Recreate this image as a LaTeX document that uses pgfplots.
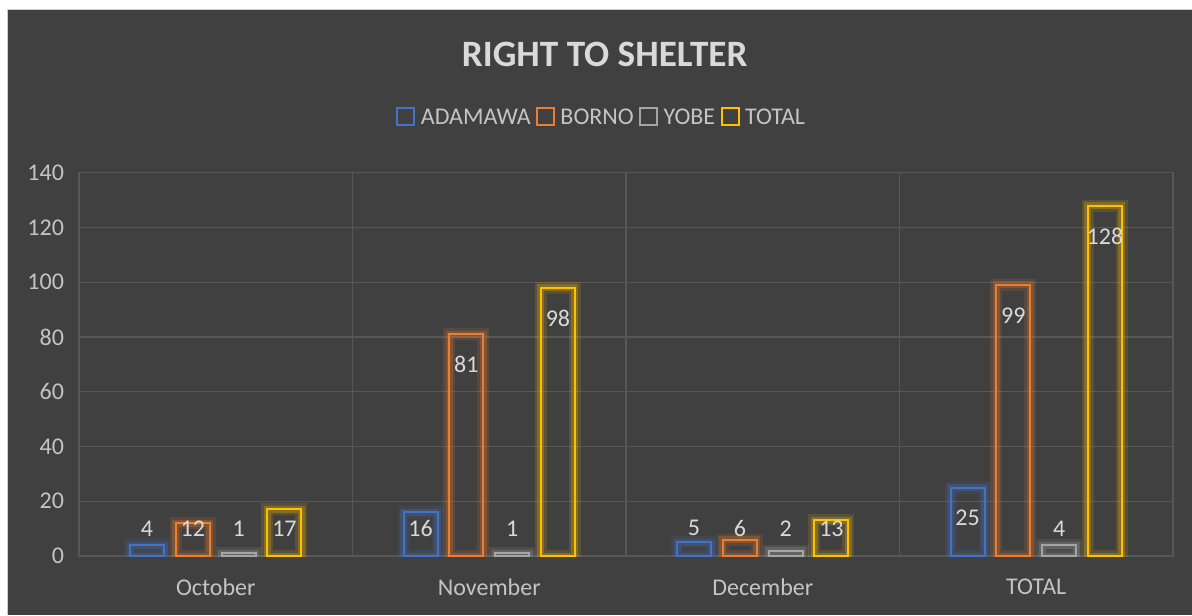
\documentclass[border=0pt]{standalone}
\usepackage{fontspec}
\setmainfont{Carlito}
\usepackage{pgfplots}
\usepackage{pgfplotstable}
\pgfplotsset{compat=1.18}
\definecolor{bg}{HTML}{404040}
\definecolor{gridc}{HTML}{575757}
\definecolor{txt}{HTML}{C4C4C4}
\definecolor{lbl}{HTML}{D9D9D9}
\definecolor{cA}{HTML}{4472C4}
\definecolor{cB}{HTML}{ED7D31}
\definecolor{cY}{HTML}{A5A5A5}
\definecolor{cT}{HTML}{FFC000}
\pgfplotstableread{
x A B Y T
0 4 12 1 17
1 16 81 1 98
2 5 6 2 13
3 25 99 4 128
}\data
\pgfplotsset{
  glowA/.style={forget plot, draw=#1, fill=none, line width=6pt, draw opacity=0.14},
  glowB/.style={forget plot, draw=#1, fill=none, line width=3.5pt, draw opacity=0.25},
  mainbar/.style={draw=#1, fill=none, line width=1pt, nodes near coords,
     legend image code/.code={\draw[#1, line width=1pt] (0pt,-3.4pt) rectangle (8.5pt,5.1pt);}},
}
\begin{document}
\begin{tikzpicture}
\useasboundingbox (0pt,0pt) rectangle (596pt,307.5pt);
\fill[white] (0pt,0pt) rectangle (596pt,307.5pt);
\fill[bg] (3.5pt,0pt) rectangle (596pt,302.5pt);
\draw[gray!40, line width=0.5pt] (3.5pt,0pt) -- (3.5pt,302.5pt) -- (596pt,302.5pt);
\begin{axis}[
  at={(39.5pt,29.5pt)}, anchor=south west,
  scale only axis, width=547pt, height=191.65pt,
  xmin=-0.5, xmax=3.5, ymin=0, ymax=140,
  xtick={0,1,2,3}, xticklabels={October,November,December,TOTAL},
  minor xtick={-0.5,0.5,1.5,2.5,3.5},
  ytick={0,20,...,140},
  xminorgrids=true, xmajorgrids=false, ymajorgrids=true,
  grid style={draw=gridc, line width=0.6pt},
  minor grid style={draw=gridc, line width=0.6pt},
  axis line style={draw=gridc, line width=0.6pt},
  major tick length=0pt, minor tick length=0pt,
  tick label style={font=\fontsize{12}{14}\selectfont, text=txt},
  yticklabel style={xshift=-4pt},
  xticklabel style={yshift=-7.8pt},
  /pgf/number format/assume math mode=true,
  ybar, bar width=17pt,
  visualization depends on={rawy \as \ry},
  every node near coord/.append style={anchor=center,
     yshift={(max(\ry-11.1,10.1)-\ry)*1.369},
     font=\fontsize{12}{14}\selectfont, text=lbl},
  title={RIGHT TO SHELTER},
  title style={at={(0.4805,1.3123)}, anchor=center, yshift=-6.5pt,
     font=\bfseries\fontsize{18.6}{21}\selectfont, text=lbl},
  legend style={at={(0.4794,1.1453)}, anchor=center, draw=none, fill=none, yshift=-0.5pt,
     legend columns=-1, font=\fontsize{12}{14}\selectfont, text=txt,
     nodes={inner xsep=2.7pt},
     /tikz/every even column/.append style={column sep=0pt}},
]
% glow layers
\addplot[glowA=cA, bar shift=-34.35pt] table[x=x,y=A] {\data};
\addplot[glowA=cB, bar shift=-11.45pt] table[x=x,y=B] {\data};
\addplot[glowA=cY, bar shift=11.45pt] table[x=x,y=Y] {\data};
\addplot[glowA=cT, bar shift=34.35pt] table[x=x,y=T] {\data};
\addplot[glowB=cA, bar shift=-34.35pt] table[x=x,y=A] {\data};
\addplot[glowB=cB, bar shift=-11.45pt] table[x=x,y=B] {\data};
\addplot[glowB=cY, bar shift=11.45pt] table[x=x,y=Y] {\data};
\addplot[glowB=cT, bar shift=34.35pt] table[x=x,y=T] {\data};
% main bars
\addplot[mainbar=cA, bar shift=-34.35pt] table[x=x,y=A] {\data};
\addplot[mainbar=cB, bar shift=-11.45pt] table[x=x,y=B] {\data};
\addplot[mainbar=cY, bar shift=11.45pt] table[x=x,y=Y] {\data};
\addplot[mainbar=cT, bar shift=34.35pt] table[x=x,y=T] {\data};
\legend{ADAMAWA,BORNO,YOBE,TOTAL}
\end{axis}
\end{tikzpicture}
\end{document}
